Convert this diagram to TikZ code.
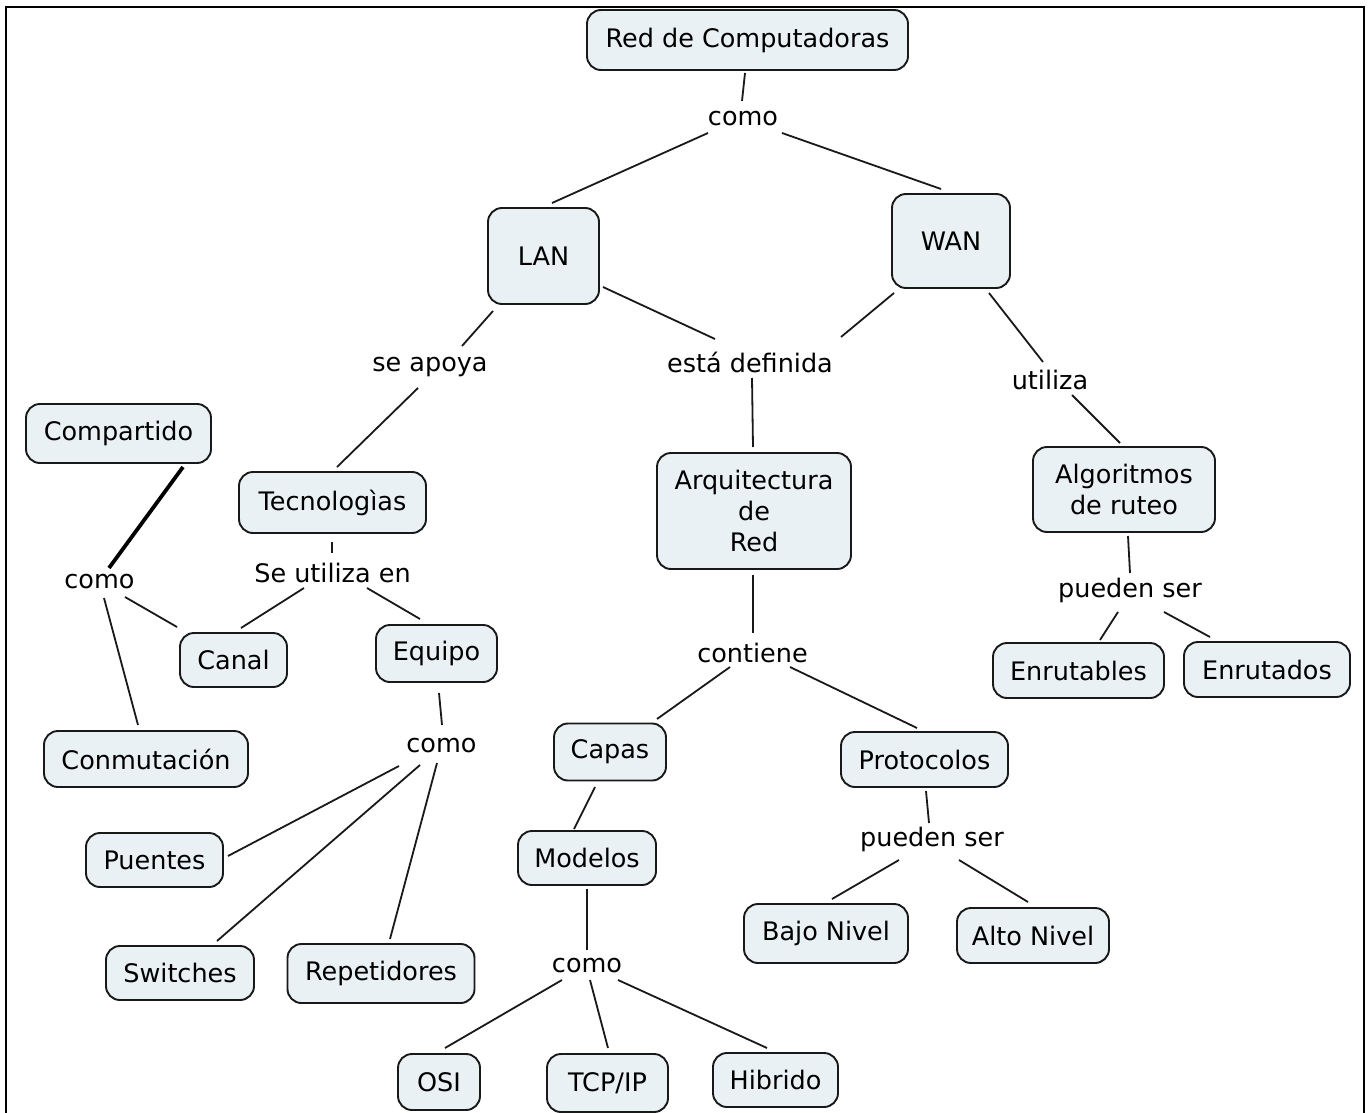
\documentclass[tikz,border=0pt]{standalone}
\usepackage{fontspec}
\setmainfont{DejaVu Sans}
\definecolor{boxfill}{RGB}{234,241,245}
\definecolor{boxline}{RGB}{25,25,25}
\begin{document}
\begin{tikzpicture}[x=1pt,y=-1pt,
  concept/.style={draw=boxline, line width=1.9pt, fill=boxfill, rounded corners=14pt,
    font=\fontsize{25.5}{31}\selectfont, align=center, inner sep=0pt},
  lbl/.style={font=\fontsize{25.5}{31}\selectfont, inner sep=1pt},
  conn/.style={line width=1.8pt, draw=black!90},
  thickconn/.style={line width=3.8pt, draw=black}]
\useasboundingbox (0,0) rectangle (1371,1113);
\fill[white] (0,0) rectangle (1371,1113);
% frame
\draw[line width=1.3pt] (5,7) -- (1365,7);
\draw[line width=2pt] (6,7) -- (6,1113);
\draw[line width=2pt] (1364,7) -- (1364,1113);

% concept boxes
\node[concept, minimum width=321pt, minimum height=60pt] (red) at (747.5,40) {Red de Computadoras};
\node[concept, minimum width=111pt, minimum height=96pt] (lan) at (543.5,256) {LAN};
\node[concept, minimum width=118pt, minimum height=94pt] (wan) at (951,241) {WAN};
\node[concept, minimum width=185pt, minimum height=59pt] (comp) at (118.5,433.5) {Compartido};
\node[concept, minimum width=187pt, minimum height=61pt] (tec) at (332.5,502.5) {Tecnologìas};
\node[concept, minimum width=194pt, minimum height=116pt] (arq) at (754,511) {Arquitectura\\de\\Red};
\node[concept, minimum width=182pt, minimum height=85pt] (alg) at (1124,489.5) {Algoritmos\\de ruteo};
\node[concept, minimum width=107pt, minimum height=54pt] (canal) at (233.5,660) {Canal};
\node[concept, minimum width=121pt, minimum height=57pt] (equipo) at (436.5,653.5) {Equipo};
\node[concept, minimum width=171pt, minimum height=55pt] (enrutables) at (1078.5,670.5) {Enrutables};
\node[concept, minimum width=166pt, minimum height=55pt] (enrutados) at (1267,669.5) {Enrutados};
\node[concept, minimum width=204pt, minimum height=56pt] (conm) at (146,759) {Conmutación};
\node[concept, minimum width=112pt, minimum height=57pt] (capas) at (610,752) {Capas};
\node[concept, minimum width=167pt, minimum height=55pt] (protocolos) at (924.5,759.5) {Protocolos};
\node[concept, minimum width=137pt, minimum height=54pt] (puentes) at (154.5,860) {Puentes};
\node[concept, minimum width=138pt, minimum height=54pt] (modelos) at (587,858) {Modelos};
\node[concept, minimum width=164pt, minimum height=59pt] (bajo) at (826,933.5) {Bajo Nivel};
\node[concept, minimum width=152pt, minimum height=55pt] (alto) at (1033,935.5) {Alto Nivel};
\node[concept, minimum width=148pt, minimum height=54pt] (switches) at (180,973) {Switches};
\node[concept, minimum width=187pt, minimum height=59pt] (repet) at (381,973.5) {Repetidores};
\node[concept, minimum width=82pt, minimum height=56pt] (osi) at (439,1082) {OSI};
\node[concept, minimum width=121pt, minimum height=58pt] (tcp) at (607.5,1083) {TCP/IP};
\node[concept, minimum width=125pt, minimum height=54pt] (hib) at (775.5,1080) {Hibrido};

% linking phrases
\node[lbl] (como1) at (743,118.5) {como};
\node[lbl] (seapoya) at (430,367) {se apoya};
\node[lbl] (ed) at (750,362.5) {está definida};
\node[lbl] (utiliza) at (1050,379.5) {utiliza};
\node[lbl] (como2) at (99.5,581.5) {como};
\node[lbl] (seutil) at (332.5,572.5) {Se utiliza en};
\node[lbl] (contiene) at (752.5,652.5) {contiene};
\node[lbl] (pueden1) at (1130,590.5) {pueden ser};
\node[lbl] (como3) at (441.5,745.5) {como};
\node[lbl] (pueden2) at (932,839.5) {pueden ser};
\node[lbl] (como4) at (587,965.5) {como};

% connectors
\draw[conn] ([shift={(-2.5,33)}]red.center) -- ([shift={(-1,-17.5)}]como1.center);
\draw[conn] ([shift={(-35,14.5)}]como1.center) -- ([shift={(8.5,-53)}]lan.center);
\draw[conn] ([shift={(39,14.5)}]como1.center) -- ([shift={(-10,-52)}]wan.center);
\draw[conn] ([shift={(-50.5,55)}]lan.center) -- ([shift={(32,-21)}]seapoya.center);
\draw[conn] ([shift={(-12,21)}]seapoya.center) -- ([shift={(4.5,-35.5)}]tec.center);
\draw[conn] ([shift={(59.5,31)}]lan.center) -- ([shift={(-35,-23.5)}]ed.center);
\draw[conn] ([shift={(-57,52)}]wan.center) -- ([shift={(91,-25.5)}]ed.center);
\draw[conn] ([shift={(2,15.5)}]ed.center) -- ([shift={(-1,-64)}]arq.center);
\draw[conn] ([shift={(38,52)}]wan.center) -- ([shift={(-7,-17.5)}]utiliza.center);
\draw[conn] ([shift={(22,15.5)}]utiliza.center) -- ([shift={(-4,-46.5)}]alg.center);
\draw[conn] ([shift={(4,46.5)}]alg.center) -- ([shift={(0,-17.5)}]pueden1.center);
\draw[conn] ([shift={(-12,21.5)}]pueden1.center) -- ([shift={(21.5,-30.5)}]enrutables.center);
\draw[conn] ([shift={(34,21.5)}]pueden1.center) -- ([shift={(-57,-32.5)}]enrutados.center);
\draw[thickconn] ([shift={(64.5,33.5)}]comp.center) -- ([shift={(9.5,-13.5)}]como2.center);
\draw[conn] ([shift={(25.5,15.5)}]como2.center) -- ([shift={(-56.5,-33)}]canal.center);
\draw[conn] ([shift={(4.5,16.5)}]como2.center) -- ([shift={(-8,-34)}]conm.center);
\draw[conn] ([shift={(-0.5,39.5)}]tec.center) -- ([shift={(-0.5,-19.5)}]seutil.center);
\draw[conn] ([shift={(-28.5,15.5)}]seutil.center) -- ([shift={(7.5,-32)}]canal.center);
\draw[conn] ([shift={(34.5,15.5)}]seutil.center) -- ([shift={(-16.5,-34.5)}]equipo.center);
\draw[conn] ([shift={(2.5,39.5)}]equipo.center) -- ([shift={(0.5,-20.5)}]como3.center);
\draw[conn] ([shift={(-42.5,20.5)}]como3.center) -- ([shift={(73.5,-4)}]puentes.center);
\draw[conn] ([shift={(-21.5,19.5)}]como3.center) -- ([shift={(37,-32)}]switches.center);
\draw[conn] ([shift={(-4.5,17.5)}]como3.center) -- ([shift={(9,-34.5)}]repet.center);
\draw[conn] ([shift={(-1,64)}]arq.center) -- ([shift={(0.5,-19.5)}]contiene.center);
\draw[conn] ([shift={(-22.5,14.5)}]contiene.center) -- ([shift={(47,-33)}]capas.center);
\draw[conn] ([shift={(37.5,14.5)}]contiene.center) -- ([shift={(-7.5,-31.5)}]protocolos.center);
\draw[conn] ([shift={(-15,35)}]capas.center) -- ([shift={(-13,-29)}]modelos.center);
\draw[conn] ([shift={(0,31)}]modelos.center) -- ([shift={(0,-15.5)}]como4.center);
\draw[conn] ([shift={(1.5,31.5)}]protocolos.center) -- ([shift={(-3,-16.5)}]pueden2.center);
\draw[conn] ([shift={(-33,20.5)}]pueden2.center) -- ([shift={(6,-34.5)}]bajo.center);
\draw[conn] ([shift={(27,20.5)}]pueden2.center) -- ([shift={(-5,-33.5)}]alto.center);
\draw[conn] ([shift={(-25,14.5)}]como4.center) -- ([shift={(6,-34)}]osi.center);
\draw[conn] ([shift={(3,14.5)}]como4.center) -- ([shift={(0.5,-35)}]tcp.center);
\draw[conn] ([shift={(31,14.5)}]como4.center) -- ([shift={(-8.5,-32)}]hib.center);
\end{tikzpicture}
\end{document}
